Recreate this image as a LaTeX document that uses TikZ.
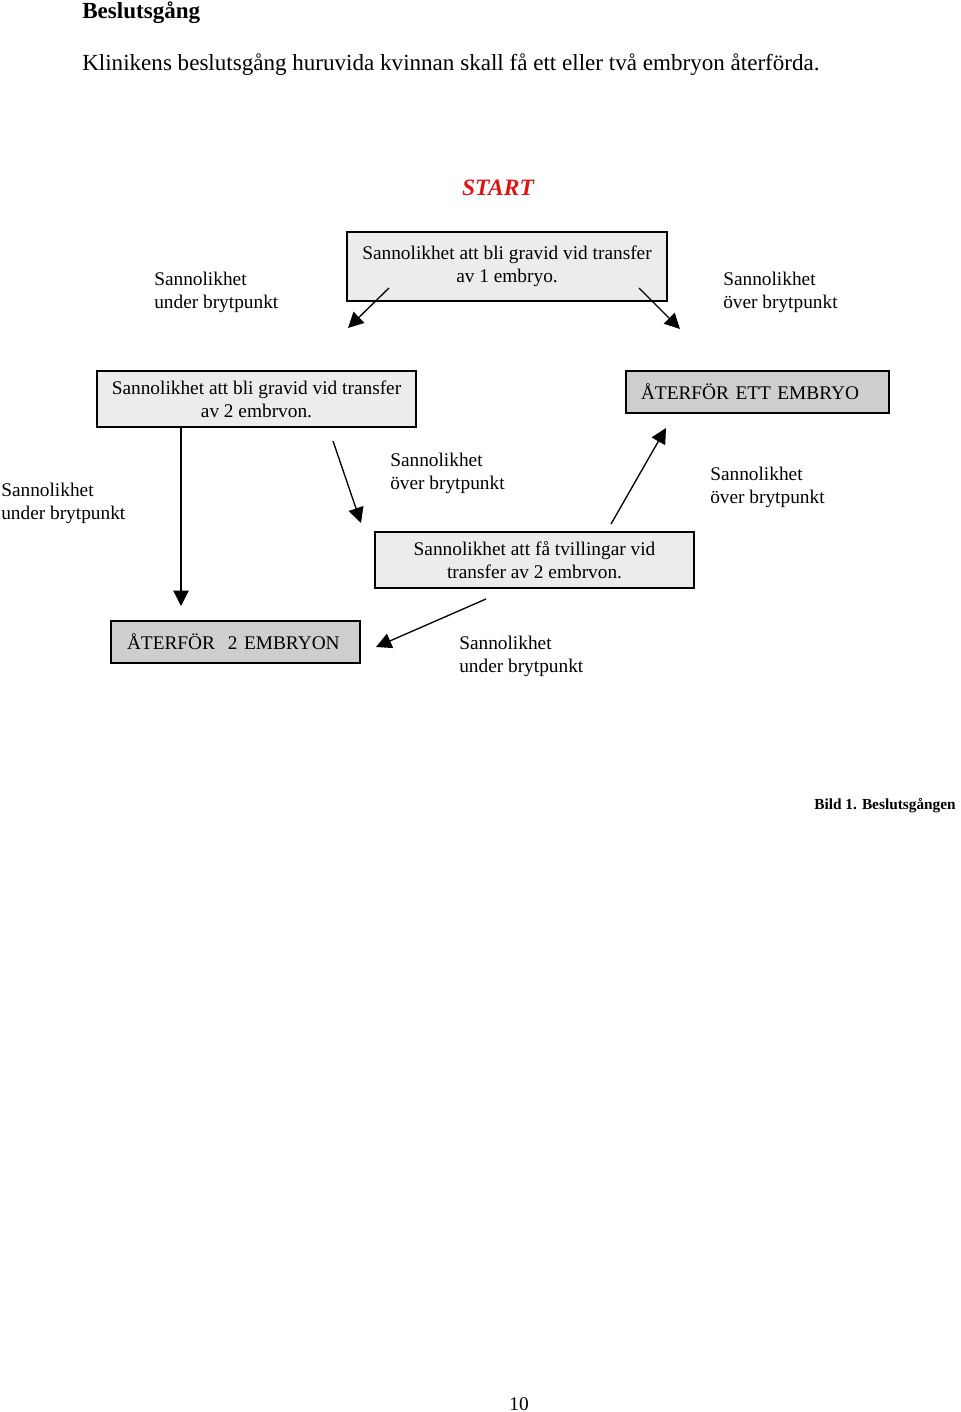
\documentclass[tikz,border=0pt]{standalone}
\usepackage{fontspec}
\setmainfont{Liberation Serif}
\definecolor{boxLight}{RGB}{236, 236, 236}
\definecolor{boxDark}{RGB}{206, 206, 206}
\definecolor{startRed}{RGB}{225, 20, 20}
\usepackage{tikz}
\usetikzlibrary{positioning,calc,arrows.meta}

\tikzset{
    probbox/.style={draw=black,line width=1.2pt,fill=boxLight,align=center,inner sep=0pt,
                    font=\fontsize{14.5}{17.25}\selectfont},
    actbox/.style={draw=black,line width=1.2pt,fill=boxDark,align=left,inner ysep=0pt,
                   font=\fontsize{14.5}{17.25}\selectfont},
    note/.style={align=left,inner sep=0pt,anchor=west,font=\fontsize{14.5}{17.25}\selectfont},
    flow/.style={line width=1pt,-{Triangle[length=11.5pt,width=11.5pt]}}
}

\begin{document}
\begin{tikzpicture}[x=0.75pt,y=-0.75pt]
        \useasboundingbox[fill=white] (0,0) rectangle (960,1412);

        \node[anchor=west,inner sep=0pt,font=\fontsize{17.3}{20}\selectfont\bfseries] (title) at (82,13) {Beslutsgång};
        \node[anchor=west,inner sep=0pt,font=\fontsize{17.3}{20}\selectfont] (intro) at (82,65)
            {Klinikens beslutsgång huruvida kvinnan skall få ett eller två embryon återförda.};

        \node[inner sep=0pt,font=\fontsize{17.6}{20}\selectfont\bfseries\itshape,text=startRed] (start) at (498,188) {START};

        \node[probbox,minimum width=240pt,minimum height=51.75pt] (one) at (507,266.5) {
            Sannolikhet att bli gravid vid transfer\\av 1 embryo.
        };
        \node[probbox,minimum width=239.25pt,minimum height=42pt] (two) at (256.5,399) {
            Sannolikhet att bli gravid vid transfer\\av 2 embrvon.
        };
        \node[actbox,inner xsep=11.25pt,text width=174.75pt,minimum height=31.5pt] (setone) at (757.5,392) {
            ÅTERFÖR ETT EMBRYO
        };
        \node[probbox,minimum width=239.25pt,minimum height=42pt] (twins) at (534.5,560) {
            Sannolikhet att få tvillingar vid\\transfer av 2 embrvon.
        };
        \node[actbox,inner xsep=12pt,text width=162.75pt,minimum height=31.5pt] (settwo) at (235.5,642) {
            ÅTERFÖR\ \ 2 EMBRYON
        };

        \node[note] (oneunder) at (154,292.5) {Sannolikhet\\under brytpunkt};
        \node[note] (oneover) at (723,292.5) {Sannolikhet\\över brytpunkt};
        \node[note] (twounder) at (1,503.5) {Sannolikhet\\under brytpunkt};
        \node[note] (twoover) at (390,473.5) {Sannolikhet\\över brytpunkt};
        \node[note] (twinsover) at (710,487.5) {Sannolikhet\\över brytpunkt};
        \node[note] (twinsunder) at (459,656.5) {Sannolikhet\\under brytpunkt};

        \coordinate (oneL) at (389,288);
        \coordinate (oneLtip) at (348,328);
        \coordinate (oneR) at (639,288);
        \coordinate (oneRtip) at (680,329);
        \coordinate (twoR) at (333,441);
        \coordinate (twoRtip) at (361,523);
        \coordinate (twotip) at (181,606);
        \coordinate (twinsR) at (611,524);
        \coordinate (twinsRtip) at (666,428);
        \coordinate (twinsL) at (486,599);
        \coordinate (twinsLtip) at (376,647);

        \draw[flow] (oneL) -- (oneLtip);
        \draw[flow] (oneR) -- (oneRtip);
        \draw[flow] (two.south -| twotip) -- (twotip);
        \draw[flow] (twoR) -- (twoRtip);
        \draw[flow] (twinsR) -- (twinsRtip);
        \draw[flow] (twinsL) -- (twinsLtip);

        \node[anchor=east,inner sep=0pt,font=\fontsize{11.5}{13}\selectfont\bfseries] (caption) at (956,806) {Bild 1. Beslutsgången};
        \node[inner sep=0pt,font=\fontsize{14.5}{17}\selectfont] (page) at (519,1404) {10};
    \end{tikzpicture}
\end{document}
